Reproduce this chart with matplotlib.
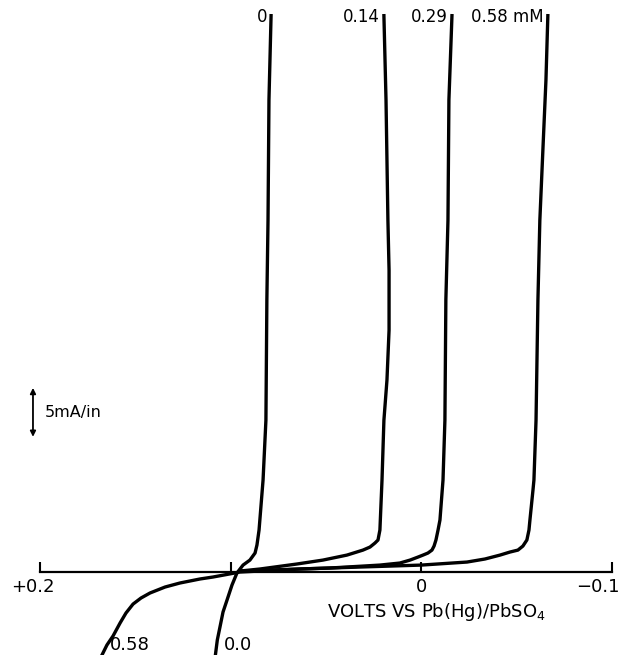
import numpy as np
import matplotlib
matplotlib.use('Agg')
import matplotlib.pyplot as plt
from matplotlib.transforms import ScaledTranslation

plt.rcParams['font.family'] = ['DejaVu Sans']

# polarograms, volts vs Pb(Hg)/PbSO4 and current in mA
v_0 = [0.108, 0.107, 0.1056, 0.104, 0.1019, 0.0993, 0.0967, 0.0935, 0.0899, 0.0872, 0.0862, 0.0851, 0.083, 0.0815, 0.081, 0.0804, 0.0799, 0.0788]
i_0 = [-8.47, -6.94, -5.61, -4.08, -2.86, -1.33, -0.10, 0.71, 1.22, 1.94, 2.76, 4.29, 9.39, 15.5, 27.8, 35.9, 48.2, 56.8]

v_014 = [0.0951, 0.0846, 0.0652, 0.0516, 0.039, 0.0306, 0.0269, 0.0243, 0.0227, 0.0222, 0.0217, 0.0206,
         0.0196, 0.018, 0.0169, 0.0169, 0.0175, 0.0185, 0.0196]
i_014 = [0.1, 0.31, 0.82, 1.22, 1.73, 2.24, 2.55, 2.96, 3.27, 3.78, 4.29, 9.39,
         15.5, 19.6, 24.7, 30.8, 35.9, 48.2, 56.8]

v_029 = [0.0951, 0.0636, 0.0479, 0.0217, 0.0112, 0.0059, 0.0017, -0.0009, -0.0035, -0.0056, -0.0067, -0.0077, -0.0088, -0.0098, -0.0114, -0.0124, -0.0129, -0.014, -0.0145, -0.0161]
i_029 = [0.1, 0.31, 0.41, 0.71, 0.92, 1.22, 1.53, 1.73, 1.94, 2.24, 2.65, 3.27, 4.29, 5.31, 9.39, 15.5, 27.8, 35.9, 48.2, 56.8]

v_058 = [0.1675, 0.1649, 0.1617, 0.158, 0.1549, 0.1512, 0.147, 0.1423, 0.1344, 0.1266, 0.1161, 0.1093, 0.0951, 0.0636, 0.0322, 0.0,
         -0.024, -0.0334, -0.0413, -0.0465, -0.0507, -0.0533, -0.0554, -0.0565, -0.057, -0.0586, -0.0591, -0.0602, -0.0612,
         -0.0622, -0.0638, -0.0654, -0.0664]
i_058 = [-8.47, -7.45, -6.53, -5.2, -4.18, -3.27, -2.65, -2.14, -1.53, -1.12, -0.71, -0.51, 0.0, 0.31, 0.51, 0.71,
         1.02, 1.33, 1.73, 2.04, 2.24, 2.65, 3.27, 4.29, 5.31, 8.37, 9.39, 15.5, 27.8,
         35.9, 43.1, 50.2, 56.8]

top_labels = ['0', '0.14', '0.29', '0.58 mM']
bottom_labels = ['0.0', '0.58']
xticks = [0.2, 0.1, 0.0, -0.1]
xticklabels = ['+0.2', '', '0', '\u22120.1']

fig = plt.figure(figsize=(6.22, 6.55), dpi=100)
ax = fig.add_axes([0, 0, 1, 1])

curves = [(v_0, i_0), (v_014, i_014), (v_029, i_029), (v_058, i_058)]
for (v, i), lab in zip(curves, top_labels):
    ax.plot(v, i, color='black', lw=2.4, solid_joinstyle='round')
    ax.annotate(lab, xy=(v[-1], i[-1]), xytext=(-3, -1), textcoords='offset points',
                ha='right', va='center', fontsize=12)

for (v, i), lab in zip([curves[0], curves[3]], bottom_labels):
    ax.annotate(lab, xy=(v[0], i[0]), xytext=(6, 7), textcoords='offset points',
                ha='left', va='center', fontsize=13)

ax.set_xlim(0.221, -0.1053)
ax.set_ylim(-8.47, 58.4)

for s in ['left', 'right', 'top']:
    ax.spines[s].set_visible(False)
ax.spines['bottom'].set_position(('data', 0))
ax.spines['bottom'].set_bounds(0.2, -0.1)
ax.spines['bottom'].set_linewidth(1.6)
ax.set_yticks([])
ax.set_xticks(xticks)
ax.set_xticklabels(xticklabels)
ax.set_xticks([0.0], minor=True)
ax.tick_params(axis='x', which='major', direction='in', length=7, width=1.5, pad=4, labelsize=13)
ax.tick_params(axis='x', which='minor', direction='out', length=4, width=1.5)
tl = ax.get_xticklabels()
tl[0].set_transform(tl[0].get_transform() + ScaledTranslation(-0.07, 0, fig.dpi_scale_trans))
tl[-1].set_ha('right')
tl[-1].set_transform(tl[-1].get_transform() + ScaledTranslation(0.08, 0, fig.dpi_scale_trans))

ax.text(-0.0077, -4.1, 'VOLTS VS Pb(Hg)/PbSO$_4$', ha='center', va='center', fontsize=13)

# scale bar
ax.annotate('', xy=(0.2037, 18.8), xytext=(0.2037, 13.8),
            arrowprops=dict(arrowstyle='<|-|>', lw=1.3, color='black', mutation_scale=8,
                            shrinkA=0, shrinkB=0))
ax.text(0.1974, 16.3, '5mA/in', ha='left', va='center', fontsize=11.5)

fig.savefig('out.png', dpi=100)
